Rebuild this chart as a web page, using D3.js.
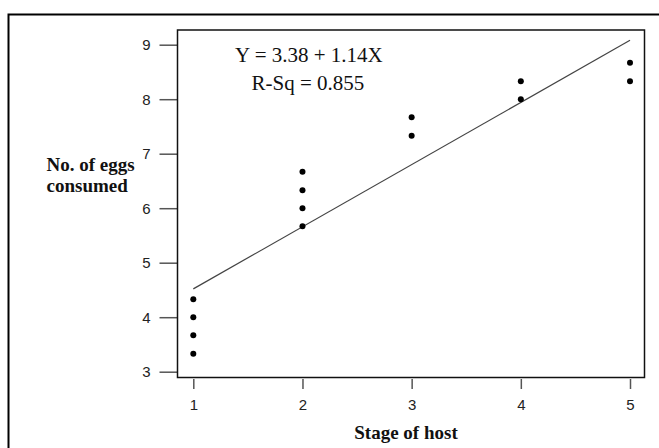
<!DOCTYPE html>
<meta charset="utf-8">
<style>
    body { margin: 0; background: #fff; }
    .container { width: 659px; height: 448px; }
    .lab { font-family: "Liberation Serif", "Times New Roman", serif; font-weight: bold; font-size: 19px; fill: #111; }
    .eq { font-family: "Liberation Serif", "Times New Roman", serif; font-size: 21px; fill: #111; }
</style>
<body>
<div class="container"></div>
<script src="https://cdn.jsdelivr.net/npm/d3@7"></script>
<script>

// data
const stages = [1, 1, 1, 1, 2, 2, 2, 2, 3, 3, 4, 4, 5, 5];
const eggs = [3.33, 3.67, 4.0, 4.33, 5.67, 6.0, 6.33, 6.67, 7.33, 7.67, 8.0, 8.33, 8.33, 8.67];
const xTicks = [1, 2, 3, 4, 5];
const yTicks = [3, 4, 5, 6, 7, 8, 9];
const intercept = 3.38;
const slope = 1.14;
const eqLines = ['Y = 3.38 + 1.14X', 'R-Sq = 0.855'];

const width = 659;
const height = 448;

const svg = d3.select('.container')
                .append('svg')
                .attr('width', width)
                .attr('height', height);

// outer frame
svg.append('rect')
    .attr('x', 8.5).attr('y', 14.5)
    .attr('width', 700).attr('height', 500)
    .attr('fill', 'none')
    .attr('stroke', '#000')
    .attr('stroke-width', 2);

const box = { left: 177.5, right: 644.5, top: 30, bottom: 377.5 };

const x = d3.scaleLinear().domain([1, 5]).range([193.3, 630]);
const y = d3.scaleLinear().domain([3, 9]).range([371.7, 44.7]);

const styleAxis = g => {
    g.select('.domain').remove();
    g.selectAll('line').attr('stroke', '#555').attr('stroke-width', 1.5);
    g.selectAll('text')
        .attr('fill', '#222')
        .attr('font-size', 15)
        .attr('font-family', '"Liberation Sans", Arial, sans-serif');
};

// y axis
svg.append('g')
    .attr('transform', `translate(${box.left},0)`)
    .call(d3.axisLeft(y).tickValues(yTicks).tickSize(18).tickPadding(9).tickFormat(d3.format('d')))
    .call(styleAxis);

// x axis
svg.append('g')
    .attr('transform', `translate(0,${box.bottom + 1.5})`)
    .call(d3.axisBottom(x).tickValues(xTicks).tickSize(10).tickPadding(10).tickFormat(d3.format('d')))
    .call(styleAxis);

// plot box
svg.append('rect')
    .attr('x', box.left).attr('y', box.top)
    .attr('width', box.right - box.left).attr('height', box.bottom - box.top)
    .attr('fill', 'none')
    .attr('stroke', '#111')
    .attr('stroke-width', 1.5);

// fitted line
const line = d3.line().x(d => x(d)).y(d => y(intercept + slope * d));
svg.append('path')
    .datum([1, 5])
    .attr('d', line)
    .attr('fill', 'none')
    .attr('stroke', '#444')
    .attr('stroke-width', 1.2);

// points
svg.selectAll('circle.pt')
    .data(stages)
    .enter()
    .append('circle')
    .attr('class', 'pt')
    .attr('cx', d => x(d))
    .attr('cy', (d, i) => y(eggs[i]))
    .attr('r', 3)
    .attr('fill', '#000');

// equation
svg.append('text').attr('class', 'eq').attr('x', 235).attr('y', 61.5).text(eqLines[0]);
svg.append('text').attr('class', 'eq').attr('x', 251.5).attr('y', 90).text(eqLines[1]);

// axis titles
svg.append('text').attr('class', 'lab').attr('x', 46.5).attr('y', 170.5).text('No. of eggs');
svg.append('text').attr('class', 'lab').attr('x', 46.5).attr('y', 191.5).text('consumed');
svg.append('text').attr('class', 'lab').attr('x', 406).attr('y', 438.5).attr('text-anchor', 'middle').text('Stage of host');

</script>
</body>
